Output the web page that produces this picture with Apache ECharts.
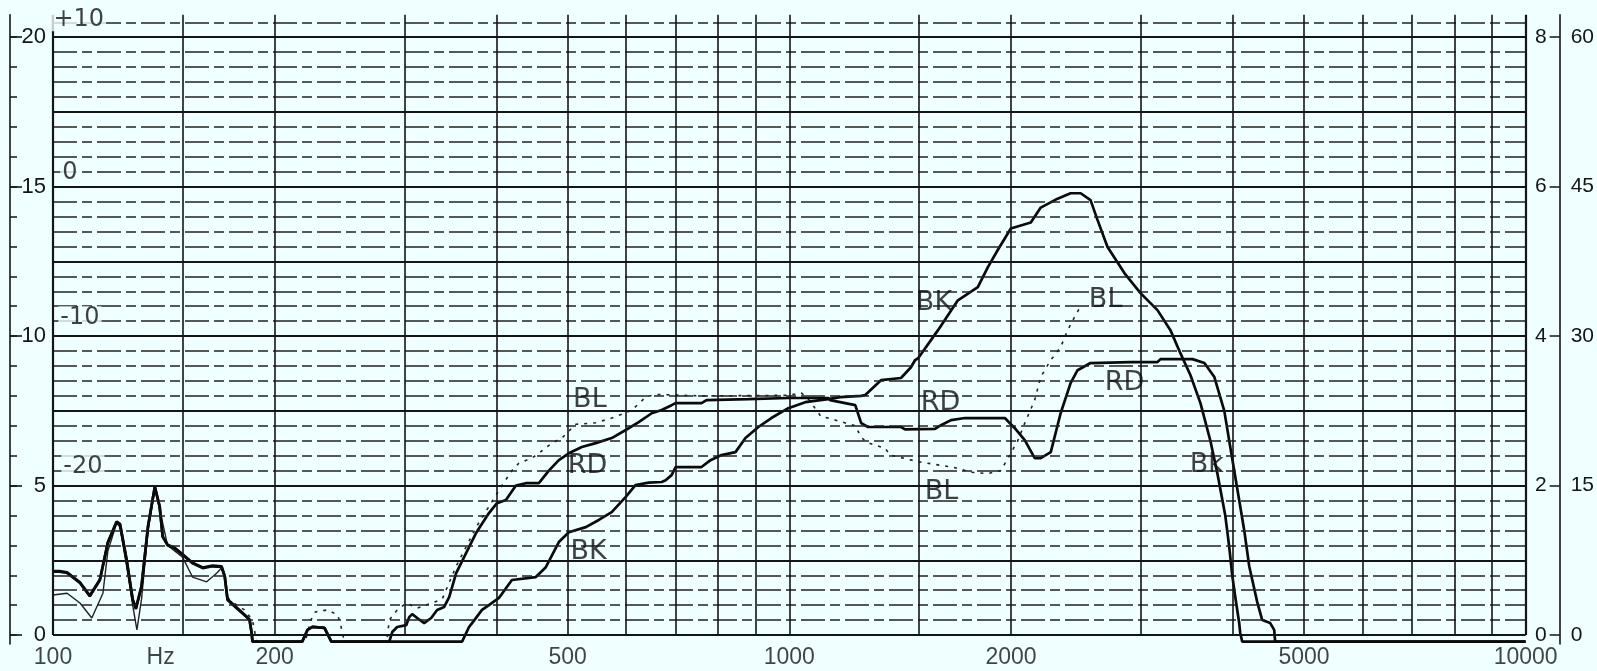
<!DOCTYPE html>
<html>
<head>
<meta charset="utf-8">
<script src="https://cdn.jsdelivr.net/npm/echarts@6/dist/echarts.min.js"></script>
<style>
  html, body { margin: 0; padding: 0; background: #f0ffff; }
  #chart { width: 1597px; height: 671px; }
</style>
</head>
<body>
<div id="chart"></div>
<script>
// Frequency axis labels (Hz) and the unit label position
const freqTicks = [100, 200, 500, 1000, 2000, 5000, 10000];
const freqTickLabels = ['100', '200', '500', '1000', '2000', '5000', '10000'];
const unitLabel = { freq: 140, text: 'Hz' };

// Vertical chart-paper rulings
const gridFreqs = [100, 150, 200, 300, 400, 500, 600, 700, 800, 900, 1000,
  1500, 2000, 3000, 4000, 5000, 6000, 7000, 8000, 9000, 10000];

// Outer scales: left 0..20, right 0..8 and 0..60
const leftScaleMinor = [0, 1, 2, 3, 4, 5, 6, 7, 8, 9, 10, 11, 12, 13, 14, 15, 16, 17, 18, 19, 20];
const levelTicks = [0, 5, 10, 15, 20];
const leftScaleLabels = ['0', '5', '10', '15', '20'];
const rightInnerLabels = ['0', '2', '4', '6', '8'];
const rightOuterLabels = ['0', '15', '30', '45', '60'];

// Hand-written dB marks along the left edge
const dbMarks = [
  { name: '+10', value: [108.4, 20.6] },
  { name: '0', value: [105.4, 15.45] },
  { name: '-10', value: [108.8, 10.6] },
  { name: '-20', value: [109.8, 5.62] }
];

// Trace names written next to the curves
const traceNotes = [
  { name: 'BL', value: [536, 7.86] },
  { name: 'RD', value: [532, 5.65] },
  { name: 'BK', value: [534, 2.78] },
  { name: 'BK', value: [1572, 11.1] },
  { name: 'RD', value: [1604, 7.75] },
  { name: 'BL', value: [1610, 4.8] },
  { name: 'BL', value: [2689, 11.2] },
  { name: 'RD', value: [2853, 8.43] },
  { name: 'Bk', value: [3690, 5.7] }
];

// BK trace [Hz, level]
const bkLevels = [[100,2.12],[102,2.12],[104.5,2.08],[108.8,1.74],[112.2,1.3],[115.8,1.84],[118.7,3.08],[122,3.79],[123.3,3.7],[125.9,2.5],[128.3,1.17],[129.6,0.87],[131.9,1.62],[134.6,3.62],[137.5,4.96],[139.6,4.29],[140.9,3.29],[143.1,3.0],[146.3,2.9],[150,2.68],[154.7,2.4],[159.7,2.24],[164.7,2.3],[169.4,2.28],[171.1,1.95],[172.6,1.17],[177.6,0.9],[183.2,0.6],[184.9,0.5],[186.1,0.07],[186.6,-0.22],[218,-0.22],[221.6,0.17],[225.1,0.27],[233.7,0.24],[238.8,-0.22],[359.4,-0.22],[367.3,0.27],[370.8,0.4],[382.5,0.84],[390.9,1.0],[403.3,1.24],[420,1.84],[452.6,1.94],[467,2.27],[486.4,3.11],[501.8,3.44],[529.2,3.61],[551.1,3.85],[573.9,4.11],[599.6,4.62],[618.5,5.02],[644.2,5.1],[671,5.12],[679.2,5.18],[692,5.35],[700.7,5.62],[759.9,5.62],[781.6,5.85],[808.9,6.02],[845,6.12],[871.8,6.59],[907.8,6.96],[945.4,7.26],[996.8,7.59],[1051,7.79],[1129,7.89],[1173,7.96],[1252,8.0],[1268,8.03],[1333,8.53],[1418,8.6],[1463,8.96],[1482,9.2],[1496,9.26],[1592,10.2],[1694,11.2],[1803,11.64],[1860,12.3],[1919,12.88],[1999,13.6],[2128,13.8],[2195,14.3],[2314,14.6],[2410,14.78],[2487,14.78],[2565,14.55],[2622,13.88],[2705,12.98],[2853,12.1],[2999,11.44],[3162,10.87],[3293,10.2],[3397,9.43],[3505,8.7],[3617,7.76],[3731,6.5],[3814,5.4],[3909,4.0],[3958,2.94],[3995,2.0],[4033,1.27],[4083,0.4],[4096,0.07],[4122,-0.22],[10000,-0.22]];

// RD trace [Hz, level]
const rdLevels = [[100,2.14],[102,2.14],[104.5,2.1],[108.8,1.76],[112.2,1.32],[115.8,1.86],[118.7,3.1],[122,3.79],[123.3,3.72],[125.9,2.52],[128.3,1.2],[129.6,0.9],[131.9,1.65],[134.6,3.64],[137.5,4.96],[139.6,4.3],[140.9,3.3],[143.1,3.02],[146.3,2.92],[150,2.7],[154.7,2.42],[159.7,2.26],[164.7,2.32],[169.4,2.3],[171.1,1.97],[172.6,1.2],[177.6,0.92],[183.2,0.62],[184.9,0.52],[186.1,0.08],[186.6,-0.22],[218,-0.22],[221.6,0.17],[225.1,0.27],[233.7,0.24],[238.8,-0.22],[286.2,-0.22],[288.9,0.1],[293.4,0.27],[301.8,0.33],[304.6,0.6],[307.5,0.7],[312.3,0.57],[319.2,0.4],[326.3,0.57],[332.4,0.84],[339.8,0.94],[345.2,1.27],[352.8,2.07],[363.9,2.74],[375.4,3.41],[390.9,4.08],[400.8,4.41],[412.2,4.52],[425.3,5.0],[438.7,5.08],[456.9,5.08],[471.4,5.5],[486.4,5.85],[501.8,6.08],[522.6,6.29],[545.9,6.42],[573.9,6.59],[599.6,6.86],[624.4,7.12],[650.3,7.42],[671,7.53],[692,7.69],[700.7,7.76],[759.9,7.76],[771.8,7.86],[880,7.89],[996.8,7.93],[1129,7.93],[1136,7.86],[1229,7.69],[1252,7.09],[1279,6.96],[1418,6.96],[1436,6.88],[1577,6.9],[1607,7.02],[1658,7.19],[1732,7.26],[1962,7.26],[2024,6.92],[2088,6.52],[2154,5.92],[2195,5.92],[2265,6.12],[2336,7.42],[2410,8.43],[2463,8.86],[2565,9.1],[2907,9.13],[3162,9.13],[3192,9.23],[3527,9.23],[3662,9.1],[3778,8.63],[3897,7.5],[3970,6.3],[4058,4.9],[4148,3.5],[4213,2.3],[4320,1.1],[4388,0.5],[4499,0.4],[4555,0.17],[4569,-0.22],[10000,-0.22]];

// BL trace, low band (continuous pen line) [Hz, level]
const blLowLevels = [[100,1.34],[104.5,1.4],[108.8,1.07],[112.9,0.57],[116.9,1.4],[118.7,2.8],[122,3.75],[123.3,3.6],[125.9,2.3],[128.3,1.0],[130,0.17],[131.9,1.2],[134.6,3.5],[137.5,4.9],[139.6,4.2],[143.1,3.0],[150,2.6],[154.7,1.94],[161.7,1.78],[166.8,2.07],[169.4,2.24],[171.1,1.95],[172.6,1.25]];

// BL trace, remainder (skipping pen) [Hz, level]
const blHighLevels = [[172.6,1.25],[177.6,1.0],[182,0.84],[186.6,0.5],[189,-0.22],[220,-0.22],[224,0.5],[227,0.77],[235.8,0.84],[243.6,0.67],[246.2,0.27],[248.7,-0.22],[284,-0.22],[286.2,0.5],[293.4,0.84],[301.8,1.07],[312.3,0.9],[337.7,1.2],[352.8,2.3],[375.4,3.6],[390.9,4.3],[407.1,5.0],[420,5.5],[429.3,5.75],[447.1,5.92],[456.9,6.08],[475.8,6.42],[491,6.59],[512.9,7.05],[545.9,7.1],[573.9,7.26],[610.9,7.52],[638.2,7.96],[658.5,8.05],[759.9,8.0],[996.8,8.02],[1038,8.1],[1061,7.9],[1105,7.3],[1129,7.26],[1229,7.0],[1252,6.62],[1272,6.45],[1349,6.25],[1371,6.02],[1496,5.8],[1679,5.6],[1764,5.45],[1860,5.4],[1937,5.5],[1980,5.9],[2043,6.5],[2088,7.09],[2154,7.86],[2195,8.63],[2265,9.2],[2336,9.63],[2388,10.2],[2440,10.64],[2487,11.0]];

const Y_MIN = -0.3, Y_MAX = 20.75;
const INK = '#151515';
const FONT = 'Liberation Sans';
const HAND = 'DejaVu Sans';

// chart-paper rulings: solid every 2.5, broken every 0.5
const hLines = [];
for (let i = 0; i <= 41; i++) {
  const v = i * 0.5;
  const major = (i % 5 === 0);
  hLines.push({
    yAxis: v,
    lineStyle: major
      ? { color: INK, width: 1.9, type: 'solid' }
      : { color: '#222', width: 1.5, type: [24, 5, 10, 5] }
  });
}
const vLines = gridFreqs.map((f, i) => [
  { coord: [f, 0], lineStyle: { color: INK, width: (i === 0 || i === gridFreqs.length - 1) ? 2.2 : 1.6, type: 'solid' } },
  { coord: [f, 20.75] }
]);

const freqLabelData = freqTicks.map((f, i) => ({ name: freqTickLabels[i], value: [f, Y_MIN] }));
freqLabelData.push({ name: unitLabel.text, value: [unitLabel.freq, Y_MIN] });

const baseY = { type: 'value', min: Y_MIN, max: Y_MAX, splitLine: { show: false } };

const chart = echarts.init(document.getElementById('chart'));
chart.setOption({
  animation: false,
  backgroundColor: '#f0ffff',
  grid: { left: 53, right: 68, top: 14.8, bottom: 27, containLabel: false },
  xAxis: {
    type: 'log', logBase: 10, min: 100, max: 10000,
    axisLine: { show: false }, axisTick: { show: false },
    axisLabel: { show: false }, splitLine: { show: false }
  },
  yAxis: [
    Object.assign({}, baseY, { show: false }),
    Object.assign({}, baseY, {
      position: 'left', offset: 43,
      axisLine: { show: true, lineStyle: { color: INK, width: 1.6 } },
      axisTick: { show: true, inside: true, length: 7, customValues: leftScaleMinor, lineStyle: { color: INK, width: 1.5 } },
      axisLabel: { show: false }
    }),
    Object.assign({}, baseY, {
      position: 'left', offset: 43,
      axisLine: { show: false },
      axisTick: { show: true, inside: true, length: 12, customValues: levelTicks, lineStyle: { color: INK, width: 1.6 } },
      axisLabel: {
        show: true, inside: true, customValues: levelTicks, align: 'right', margin: 36,
        formatter: v => leftScaleLabels[levelTicks.indexOf(v)] || '',
        color: INK, fontSize: 22, fontFamily: FONT
      }
    }),
    Object.assign({}, baseY, {
      position: 'right', offset: 34,
      axisLine: { show: true, lineStyle: { color: INK, width: 1.6 } },
      axisTick: { show: true, inside: true, length: 10, customValues: levelTicks, lineStyle: { color: INK, width: 1.5 } },
      axisLabel: {
        show: true, customValues: levelTicks, align: 'left', margin: 11,
        formatter: v => rightOuterLabels[levelTicks.indexOf(v)] || '',
        color: INK, fontSize: 21, fontFamily: FONT
      }
    }),
    Object.assign({}, baseY, {
      position: 'right', offset: 34,
      axisLine: { show: false }, axisTick: { show: false },
      axisLabel: {
        show: true, inside: true, customValues: levelTicks, align: 'right', margin: 13,
        formatter: v => rightInnerLabels[levelTicks.indexOf(v)] || '',
        color: INK, fontSize: 21, fontFamily: FONT
      }
    })
  ],
  series: [
    {
      name: 'rulings', type: 'line', data: [], z: 1, silent: true,
      markLine: {
        silent: true, symbol: ['none', 'none'], animation: false,
        label: { show: false }, emphasis: { disabled: true },
        data: hLines.concat(vLines)
      }
    },
    {
      name: 'BL', type: 'line', data: blLowLevels, z: 3, showSymbol: false, silent: true,
      lineStyle: { color: '#222', width: 1.4 }
    },
    {
      name: 'BL', type: 'line', data: blHighLevels, z: 3, showSymbol: false, silent: true,
      lineStyle: { color: '#222', width: 1.6, type: [3, 6] }
    },
    {
      name: 'RD', type: 'line', data: rdLevels, z: 4, showSymbol: false, silent: true,
      lineStyle: { color: '#0a0a0a', width: 2.7 }
    },
    {
      name: 'BK', type: 'line', data: bkLevels, z: 4, showSymbol: false, silent: true,
      lineStyle: { color: '#0a0a0a', width: 2.7 }
    },
    {
      name: 'trace names', type: 'scatter', data: traceNotes, symbolSize: 0, z: 5, silent: true,
      label: { show: true, position: 'inside', formatter: '{b}', color: '#111', fontSize: 27, fontFamily: HAND, fontWeight: 'normal' }
    },
    {
      name: 'dB marks', type: 'scatter', data: dbMarks, symbolSize: 0, z: 5, silent: true,
      label: { show: true, position: 'inside', formatter: '{b}', color: '#111', fontSize: 24, fontFamily: HAND, fontWeight: 'normal', backgroundColor: '#f0ffff', padding: [0, 2] }
    },
    {
      name: 'frequency labels', type: 'scatter', data: freqLabelData, symbolSize: 0, z: 5, silent: true, clip: false,
      label: { show: true, position: 'inside', offset: [0, 14], formatter: '{b}', color: INK, fontSize: 23, fontFamily: FONT }
    }
  ]
});
</script>
</body>
</html>
